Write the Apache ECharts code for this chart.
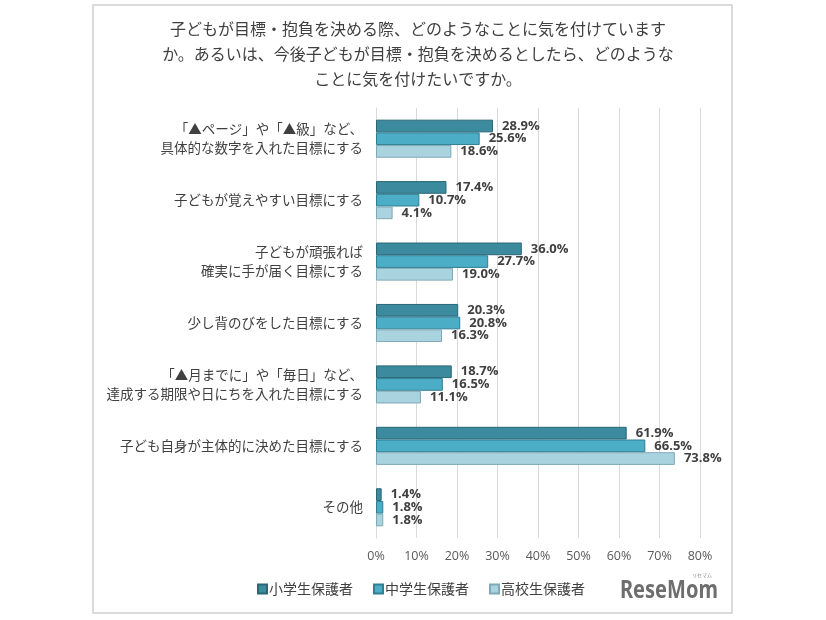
<!DOCTYPE html>
<html><head><meta charset="utf-8">
<script src="https://cdn.jsdelivr.net/npm/echarts@6/dist/echarts.min.js"></script>
<style>html,body{margin:0;padding:0;background:#fff}#c{width:826px;height:620px}</style>
</head><body><div id="c"></div>
<script>
const categories = [
  "「▲ページ」や「▲級」など、\n具体的な数字を入れた目標にする",
  "子どもが覚えやすい目標にする",
  "子どもが頑張れば\n確実に手が届く目標にする",
  "少し背のびをした目標にする",
  "「▲月までに」や「毎日」など、\n達成する期限や日にちを入れた目標にする",
  "子ども自身が主体的に決めた目標にする",
  "その他"
];
const seriesNames = ["小学生保護者", "中学生保護者", "高校生保護者"];
const elementary = [28.9, 17.4, 36.0, 20.3, 18.7, 61.9, 1.4];
const junior = [25.6, 10.7, 27.7, 20.8, 16.5, 66.5, 1.8];
const high = [18.6, 4.1, 19.0, 16.3, 11.1, 73.8, 1.8];
const xTicks = [0, 10, 20, 30, 40, 50, 60, 70, 80];

const colors = ["#3b8a9e", "#4badc6", "#a9d3df"];
const borders = ["#2a6676", "#2f7f93", "#7fa9b6"];
const font = "'Noto Sans CJK JP', 'Noto Sans', sans-serif";

const chart = echarts.init(document.getElementById('c'));
const mk = (name, data, i) => ({
  name, type: 'bar', data,
  barWidth: 12.7, barGap: '0%', barCategoryGap: '38%',
  itemStyle: { color: colors[i], borderColor: borders[i], borderWidth: 1 },
  label: {
    show: true, position: 'right', distance: 9,
    formatter: p => p.value.toFixed(1) + '%',
    color: '#404040', fontWeight: 'bold', fontSize: 13,
    fontFamily: "'Open Sans', 'Noto Sans', sans-serif"
  }
});
chart.setOption({
  animation: false,
  title: {
    text: "子どもが目標・抱負を決める際、どのようなことに気を付けています\nか。あるいは、今後子どもが目標・抱負を決めるとしたら、どのような\nことに気を付けたいですか。",
    left: 413, top: 11, textAlign: 'center',
    textStyle: { fontSize: 16, fontWeight: 'normal', color: '#404040', lineHeight: 25, fontFamily: font }
  },
  legend: {
    data: seriesNames, bottom: 19, left: 252,
    icon: 'rect', itemWidth: 9, itemHeight: 9, itemGap: 20,
    textStyle: { fontSize: 14, color: '#404040', fontFamily: font, padding: [0, 0, 0, -3] }
  },
  grid: { left: 376, right: 126, top: 108, bottom: 82, containLabel: false },
  xAxis: {
    type: 'value', min: 0, max: xTicks[xTicks.length - 1], interval: 10,
    axisLabel: { formatter: v => v + '%', color: '#595959', fontSize: 12.5, margin: 12, fontFamily: "'Open Sans', 'Noto Sans', sans-serif" },
    splitLine: { lineStyle: { color: '#d9d9d9' } },
    axisLine: { show: false }, axisTick: { show: false }
  },
  yAxis: {
    type: 'category', data: categories, inverse: true,
    axisLine: { show: true, lineStyle: { color: '#d9d9d9' } },
    axisTick: { show: false },
    axisLabel: { color: '#404040', fontSize: 13.5, margin: 13, lineHeight: 19, fontFamily: font, align: 'right' }
  },
  series: [mk(seriesNames[0], elementary, 0), mk(seriesNames[1], junior, 1), mk(seriesNames[2], high, 2)],
  graphic: [
    { type: 'rect', shape: { x: 93, y: 5, width: 639, height: 608 }, style: { fill: 'none', stroke: '#d0d0d0', lineWidth: 1.5 }, silent: true },
    { type: 'text', x: 620, y: 578, scaleX: 0.8, style: { text: 'ReseMom', fontSize: 25, fontWeight: 'bold', fill: '#6e6e6e', fontFamily: "'Noto Sans', sans-serif" } },
    { type: 'text', x: 692, y: 573, style: { text: 'リセマム', fontSize: 5, fill: '#888', fontFamily: font } }
  ]
});
</script></body></html>
